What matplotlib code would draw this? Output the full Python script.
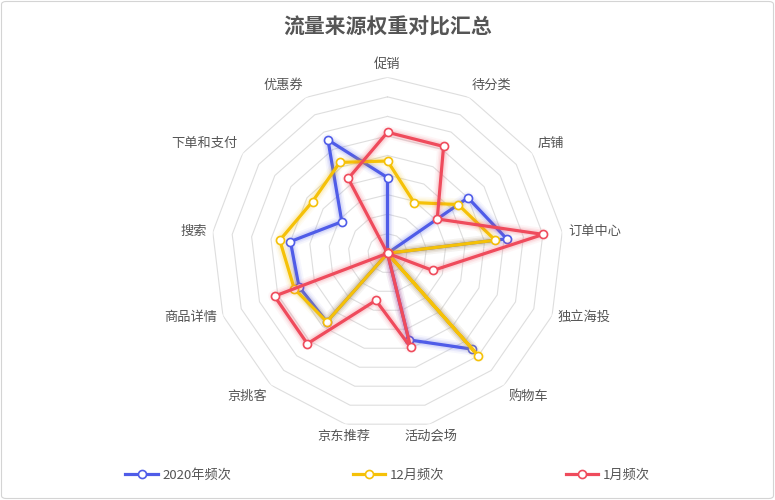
import numpy as np
import matplotlib
matplotlib.use("Agg")
import matplotlib.pyplot as plt
from matplotlib.lines import Line2D
from matplotlib.patches import FancyBboxPatch

plt.rcParams['font.family'] = ['Noto Sans CJK SC', 'DejaVu Sans']

# ---- data ----
categories = ['促销', '待分类', '店铺', '订单中心', '独立海投', '购物车', '活动会场',
              '京东推荐', '京挑客', '商品详情', '搜索', '下单和支付', '优惠券']
series_names = ['2020年频次', '12月频次', '1月频次']
freq_2020 = [3.87, 0, 5.0, 6.14, 0, 6.55, 4.56, 0, 4.68, 4.84, 5.0, 2.84, 6.55]
freq_dec = [4.72, 2.93, 4.39, 5.55, 0, 7.0, 0, 0, 4.68, 5.1, 5.55, 4.66, 5.25]
freq_jan = [6.19, 6.17, 3.09, 8.02, 2.48, 0, 4.95, 2.48, 6.18, 6.18, 0, 0, 4.32]
max_value = 9
split_number = 9
title = '流量来源权重对比汇总'

colors = ['#4f5ce8', '#f5c108', '#ef4b5c']

W, H = 775, 500
fig = plt.figure(figsize=(W / 100, H / 100), dpi=100)
fig.patch.set_facecolor('white')

cx, cy, R = 387.5, 253.3, 176.0
ax = fig.add_axes([(cx - R) / W, (H - cy - R) / H, 2 * R / W, 2 * R / H], projection='polar')
ax.set_theta_zero_location('N')
ax.set_theta_direction(-1)
ax.set_ylim(0, max_value)
ax.grid(False)
ax.set_xticks([])
ax.set_yticks([])
ax.spines['polar'].set_visible(False)
ax.patch.set_alpha(0)

n = len(categories)
theta = np.linspace(0, 2 * np.pi, n, endpoint=False)
theta_c = np.concatenate([theta, theta[:1]])

# rings
for k in range(1, split_number + 1):
    r = max_value * k / split_number
    ax.plot(theta_c, [r] * (n + 1), color='#dedede', lw=0.8, zorder=1)

# series
for i, (vals, col) in enumerate(zip([freq_2020, freq_dec, freq_jan], colors)):
    v = list(vals) + [vals[0]]
    z = 3 + i * 3
    for lw, a in [(9, 0.05), (6.5, 0.08), (4.5, 0.11)]:
        ax.plot(theta_c, v, color=col, lw=lw, alpha=a, solid_capstyle='round',
                solid_joinstyle='round', zorder=z)
    ax.plot(theta_c, v, color=col, lw=2.3, solid_joinstyle='round', zorder=z + 1)
    ax.plot(theta, vals, linestyle='none', marker='o', markersize=5.8,
            markerfacecolor='white', markeredgecolor=col, markeredgewidth=1.2, zorder=z + 2)

# category labels
r_lab = max_value * 182 / R
for t, name in zip(theta, categories):
    dx, dy = np.sin(t), np.cos(t)
    ha = 'center' if abs(dx) < 0.3 else ('left' if dx > 0 else 'right')
    va = 'center' if abs(dy) < 0.45 else ('bottom' if dy > 0 else 'top')
    ax.text(t, r_lab, name, ha=ha, va=va, fontsize=9.5, color='#555555', clip_on=False)

# title
fig.text(0.5, 1 - 27 / H, title, ha='center', va='center', fontsize=15,
         fontweight='bold', color='#555555')

# legend
handles = [Line2D([0], [0], color=c, lw=2.3, marker='o', markersize=5.8,
                  markerfacecolor='white', markeredgecolor=c, markeredgewidth=1.2)
           for c in colors]
leg = fig.legend(handles, series_names, loc='center', bbox_to_anchor=(0.5, 1 - 475 / H),
                 ncol=3, frameon=False, fontsize=9.5, handlelength=2.45,
                 handletextpad=0.35, columnspacing=9.2, numpoints=1)
for txt in leg.get_texts():
    txt.set_color('#555555')

# border
border = FancyBboxPatch((1.5 / W, 1.5 / H), 1 - 3 / W, 1 - 3 / H,
                        boxstyle='round,pad=0,rounding_size=0.006',
                        transform=fig.transFigure, fill=False, ec='#d4d4d4', lw=0.8)
fig.patches.append(border)

fig.savefig('out.png', dpi=100, facecolor='white')
